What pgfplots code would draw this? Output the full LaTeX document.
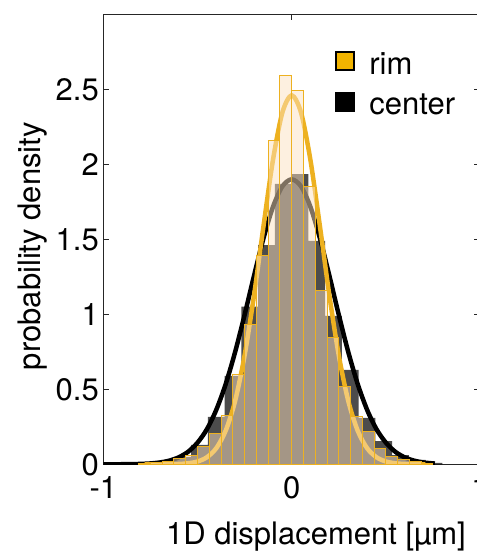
\documentclass[border=0pt]{standalone}
\usepackage{pgfplots}
\pgfplotsset{compat=1.18}
\usepackage{fontspec}
\setmainfont{TeX Gyre Heros}
\definecolor{rimorange}{RGB}{237,177,32}
\definecolor{rimface}{RGB}{251,225,193}
\definecolor{legorange}{RGB}{242,180,0}
\begin{document}
\begin{tikzpicture}
\begin{axis}[
 at={(0,0)}, anchor=south west,
 scale only axis, width=376.8pt, height=450pt,
 xmin=-1, xmax=1, ymin=0, ymax=3,
 xtick={-1,0,1}, xticklabels={-1,0,1},
 ytick={0,0.5,1,1.5,2,2.5}, yticklabels={0,0.5,1,1.5,2,2.5},
 tick align=inside, major tick length=6pt,
 every tick/.style={black!85, line width=1.2pt},
 axis line style={black!85, line width=1.2pt},
 tick label style={font=\fontsize{31}{37}\selectfont},
 xticklabel style={yshift=-9pt},
 yticklabel style={xshift=-1pt},
 xlabel={1D displacement [µm]}, ylabel={probability density},
 every axis x label/.style={at={(axis description cs:0.5645,-0.16)}, anchor=center, font=\fontsize{31}{37}\selectfont},
 every axis y label/.style={at={(axis description cs:-0.187,0.485)}, rotate=90, anchor=center, font=\fontsize{31}{37}\selectfont},
 legend style={at={(axis cs:0.231,2.76)}, anchor=north west, draw=none, fill=none,
   font=\fontsize{31}{37}\selectfont, row sep=14pt, inner sep=0pt},
 legend cell align=left,
]
\addplot[ybar, bar width=0.0889, bar shift=0pt, fill=black, fill opacity=0.7, draw=none, forget plot] coordinates {
(-0.84455,0.003) (-0.75565,0.008) (-0.66675,0.02) (-0.57785,0.05) (-0.48895,0.129)
(-0.40005,0.317) (-0.31115,0.589) (-0.22225,1.051) (-0.13335,1.462) (-0.04445,1.869)
(0.04445,1.935) (0.13335,1.489) (0.22225,0.989) (0.31115,0.629) (0.40005,0.31)
(0.48895,0.155) (0.57785,0.062) (0.66675,0.029) (0.75565,0.01)
};
\addplot[black, line width=4.5pt, smooth, forget plot] coordinates {
(-1,0.0001) (-0.95,0.0002) (-0.9,0.0004) (-0.85,0.0011) (-0.8,0.0026) (-0.75,0.0057)
(-0.7,0.0120) (-0.65,0.0242) (-0.6,0.0461) (-0.55,0.0834) (-0.5,0.144) (-0.45,0.234)
(-0.4,0.364) (-0.35,0.536) (-0.3,0.750) (-0.25,0.996) (-0.2,1.257) (-0.15,1.506)
(-0.1,1.714) (-0.05,1.852) (0,1.9) (0.05,1.852) (0.1,1.714) (0.15,1.506) (0.2,1.257)
(0.25,0.996) (0.3,0.750) (0.35,0.536) (0.4,0.364) (0.45,0.234) (0.5,0.144)
(0.55,0.0834) (0.6,0.0461) (0.65,0.0242) (0.7,0.0120) (0.76,0.0050)
};
\addplot[rimorange, line width=4.5pt, smooth, forget plot] coordinates {
(-0.78,0.0000) (-0.7,0.0001) (-0.65,0.0006) (-0.6,0.0022) (-0.55,0.0067) (-0.5,0.0186)
(-0.45,0.047) (-0.4,0.108) (-0.35,0.225) (-0.3,0.424) (-0.25,0.726) (-0.2,1.126)
(-0.15,1.585) (-0.1,2.024) (-0.05,2.343) (0,2.46) (0.05,2.343) (0.1,2.024) (0.15,1.585)
(0.2,1.126) (0.25,0.726) (0.3,0.424) (0.35,0.225) (0.4,0.108) (0.45,0.047) (0.5,0.0186)
(0.55,0.0067) (0.6,0.0022) (0.65,0.0006) (0.71,0.0001)
};
\addplot[ybar, bar width=0.0625, bar shift=0pt, fill=rimface, fill opacity=0.5, draw=rimorange, line width=1pt, forget plot] coordinates {
(-0.78125,0.006) (-0.71875,0.013) (-0.65625,0.022) (-0.59375,0.04) (-0.53125,0.062)
(-0.46875,0.122) (-0.40625,0.205) (-0.34375,0.324) (-0.28125,0.602) (-0.21875,0.933)
(-0.15625,1.389) (-0.09375,2.157) (-0.03125,2.589) (0.03125,2.491) (0.09375,1.851)
(0.15625,1.162) (0.21875,0.847) (0.28125,0.517) (0.34375,0.322) (0.40625,0.222)
(0.46875,0.107) (0.53125,0.055) (0.59375,0.029) (0.65625,0.018) (0.71875,0.008)
};
\addlegendimage{legend image code/.code={\draw[fill=legorange, draw=black, line width=1.5pt] (0pt,-6pt) rectangle (18pt,12pt); \path (31pt,0pt);}}
\addlegendentry{rim}
\addlegendimage{legend image code/.code={\draw[fill=black, draw=black, line width=1.5pt] (0pt,-6pt) rectangle (18pt,12pt); \path (31pt,0pt);}}
\addlegendentry{center}
\end{axis}
\pgfresetboundingbox
\path (-103.3pt,-93.7pt) rectangle (373.7pt,464.3pt);
\end{tikzpicture}
\end{document}
